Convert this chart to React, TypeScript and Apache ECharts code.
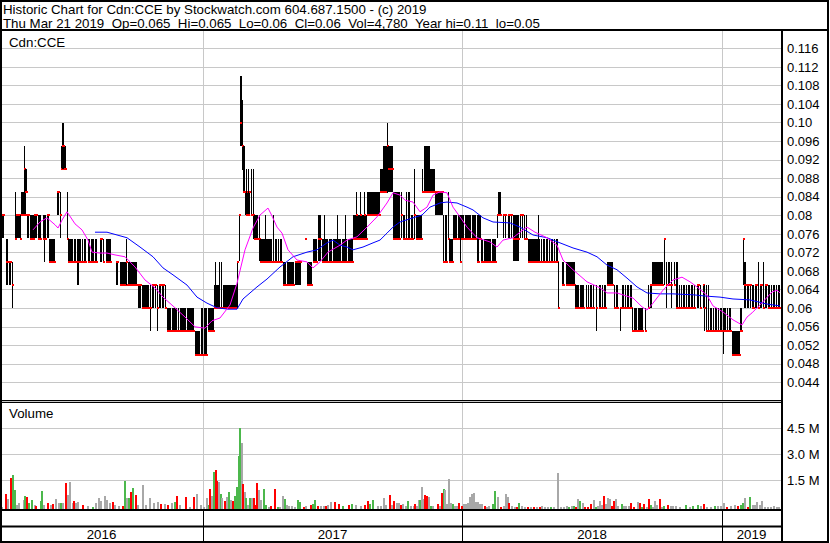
import React, { useEffect, useRef } from "react";
import * as echarts from "echarts";

const TITLE = "Historic Chart for Cdn:CCE by Stockwatch.com 604.687.1500 - (c) 2019";
const SUBTITLE = "Thu Mar 21 2019  Op=0.065  Hi=0.065  Lo=0.06  Cl=0.06  Vol=4,780  Year hi=0.11  lo=0.05";
const SYMBOL = "Cdn:CCE";
const VOLUME_LABEL = "Volume";

const years = ["2016", "2017", "2018", "2019"];
// trading-day index where each year begins, and the last index of the chart
const yearStart = [0, 203, 462, 722];
const lastDay = 781;

// price runs: [firstDay, lastDay, high, low, close] in thousandths of a dollar
const priceRuns: number[][] = [
  [1,3,80,75,80],[6,7,75,65,70],[9,10,70,65,70],[12,12,70,60,65],[15,15,85,75,75],[16,19,80,75,80],
  [20,20,80,75,75],[21,25,85,80,80],[24,24,95,85,90],[25,26,90,85,85],[27,28,80,75,80],[30,33,80,75,75],
  [34,36,80,75,80],[38,40,80,75,75],[43,45,80,75,75],[44,44,75,70,75],[47,48,80,75,80],[49,54,75,70,70],
  [57,58,85,80,85],[60,60,85,75,80],[61,65,95,90,90],[62,63,100,90,95],[67,67,85,75,75],[68,72,75,70,70],
  [74,75,75,70,70],[77,78,75,65,70],[79,80,75,70,70],[82,82,75,70,70],[84,85,75,70,70],[88,89,75,70,70],
  [91,93,75,70,70],[95,96,75,70,70],[100,101,75,70,75],[103,103,75,70,70],[106,110,75,70,70],[116,117,70,65,70],
  [120,126,70,65,65],[126,126,75,65,70],[128,136,70,65,65],[138,140,65,60,65],[142,148,65,60,60],[150,150,65,55,60],
  [152,153,65,60,65],[155,155,65,60,65],[157,157,65,55,60],[159,160,65,60,65],[162,163,65,60,65],[165,165,65,60,60],
  [167,170,60,55,55],[172,176,60,55,55],[178,178,60,55,55],[180,185,60,55,55],[187,193,60,55,55],[195,199,55,50,50],
  [201,202,60,50,50],[204,206,60,50,50],[208,213,60,55,55],[214,218,65,60,60],[215,215,70,60,60],[219,219,70,60,60],
  [221,221,70,60,60],[223,236,65,60,60],[237,237,70,60,70],[239,239,80,70,80],[240,241,110,95,100],[242,242,105,90,95],
  [243,244,95,85,85],[245,249,85,80,85],[246,246,90,80,80],[248,248,90,80,80],[251,251,90,80,80],[253,253,90,75,80],
  [254,257,80,75,75],[259,259,80,70,75],[260,271,75,70,70],[265,265,80,70,70],[273,273,80,70,70],[275,276,75,70,70],
  [278,278,75,70,70],[280,281,75,70,70],[283,285,70,65,65],[287,293,70,65,65],[295,300,70,65,70],[305,305,75,75,75],
  [307,311,70,65,65],[313,316,75,70,70],[318,320,80,70,75],[322,327,75,70,70],[324,324,80,70,70],[329,331,75,70,70],
  [333,340,75,70,70],[337,337,80,70,70],[342,346,75,70,70],[345,345,80,70,70],[348,352,75,70,70],[353,366,80,75,75],
  [356,356,85,75,80],[360,360,85,75,80],[364,364,85,75,80],[367,379,85,80,80],[380,382,90,85,85],[383,386,95,85,85],
  [387,387,100,85,95],[388,392,95,85,90],[393,399,85,75,75],[401,401,85,75,80],[403,404,80,75,75],[406,406,85,75,75],
  [408,409,85,75,75],[411,412,80,75,75],[414,414,90,75,80],[416,421,80,75,75],[422,422,90,85,85],[424,429,95,85,85],
  [430,434,90,85,85],[435,442,85,80,85],[443,443,80,70,70],[445,446,80,70,70],[448,448,85,75,75],[449,452,75,70,70],
  [453,456,80,75,75],[458,463,80,75,75],[460,460,80,70,70],[465,470,80,75,75],[472,475,80,75,75],[477,478,80,70,70],
  [479,480,80,75,75],[481,482,75,70,70],[484,490,75,70,70],[492,495,75,70,70],[497,497,80,75,80],[498,500,85,80,80],
  [503,503,80,75,80],[505,505,80,75,80],[508,509,80,75,80],[511,511,80,75,80],[513,518,80,70,75],[520,520,80,75,80],
  [522,522,80,75,80],[524,524,80,75,75],[526,526,80,75,75],[528,539,75,70,70],[538,538,80,70,70],[541,541,75,70,70],
  [543,544,75,70,70],[546,547,75,70,70],[549,549,75,70,70],[551,552,75,70,70],[554,554,75,70,70],[556,557,75,70,70],
  [558,558,70,60,60],[562,563,70,65,65],[566,574,70,65,65],[575,578,65,60,60],[580,583,65,60,60],[586,586,65,60,60],
  [588,588,65,60,60],[590,591,65,60,60],[593,593,65,60,60],[596,596,65,55,60],[599,600,65,60,60],[602,602,65,60,60],
  [604,605,65,60,60],[607,612,70,65,65],[614,614,65,60,60],[616,617,65,60,60],[620,620,60,55,60],[622,623,65,60,60],
  [625,625,65,60,60],[627,628,65,60,60],[630,631,65,60,60],[632,632,60,55,55],[634,636,60,55,55],[638,642,60,55,55],
  [645,645,60,55,55],[648,648,65,60,60],[650,651,65,60,65],[652,662,70,65,65],[664,664,75,65,75],[666,666,70,60,65],
  [668,669,70,65,65],[671,671,70,60,65],[674,674,70,65,65],[676,677,70,60,60],[679,679,65,60,60],[681,681,65,60,60],
  [683,684,65,60,60],[686,686,65,60,60],[688,689,65,60,60],[691,692,65,60,60],[694,694,65,60,60],[697,698,65,60,65],
  [700,700,65,60,60],[703,703,65,60,65],[704,704,65,55,60],[706,706,65,55,55],[708,708,65,55,55],[710,711,60,55,55],
  [713,713,60,55,55],[715,716,60,55,55],[718,718,60,55,55],[720,721,60,55,55],[723,723,60,50,55],[724,725,60,55,55],
  [727,727,60,55,55],[729,730,60,55,55],[732,739,55,50,50],[740,741,60,55,55],[743,743,75,65,75],[744,745,70,60,65],
  [747,748,65,60,65],[750,750,65,60,65],[752,753,65,60,60],[755,756,65,60,65],[758,758,70,60,60],[760,761,65,60,65],
  [763,763,70,60,60],[765,766,65,60,65],[768,769,65,60,60],[771,771,65,60,60],[773,774,65,60,60],[776,776,65,60,60],
  [778,779,65,60,60],
];

// short moving average (magenta): [day, price]
const maShort: number[][] = [
  [33,0.0769],[40,0.0786],[47,0.0795],[55,0.0780],[58,0.0773],[62,0.0790],[67,0.0808],[75,0.0782],[82,0.0769],
  [88,0.0747],[92,0.0721],[100,0.0719],[107,0.0719],[115,0.0715],[125,0.0711],[135,0.0689],[145,0.0661],[155,0.0644],
  [163,0.0624],[175,0.0601],[185,0.0581],[195,0.0560],[205,0.0557],[212,0.0573],[220,0.0579],[230,0.0607],[237,0.0654],
  [245,0.0726],[253,0.0773],[260,0.0801],[268,0.0816],[272,0.0799],[277,0.0775],[282,0.0762],[288,0.0726],[297,0.0704],
  [307,0.0700],[313,0.0687],[320,0.0700],[328,0.0721],[340,0.0736],[347,0.0747],[357,0.0754],[367,0.0775],[377,0.0797],
  [387,0.0827],[393,0.0849],[400,0.0844],[405,0.0833],[413,0.0829],[420,0.0808],[427,0.0818],[433,0.0844],[440,0.0851],
  [447,0.0849],[453,0.0818],[460,0.0797],[467,0.0775],[477,0.0752],[490,0.0743],[497,0.0732],[503,0.0747],[513,0.0752],
  [520,0.0764],[527,0.0775],[535,0.0764],[547,0.0752],[557,0.0736],[563,0.0704],[573,0.0683],[587,0.0657],[600,0.0644],
  [607,0.0633],[617,0.0633],[627,0.0626],[633,0.0622],[642,0.0603],[647,0.0596],[653,0.0611],[663,0.0639],[673,0.0661],
  [682,0.0667],[690,0.0657],[697,0.0646],[707,0.0628],[713,0.0605],[723,0.0592],[733,0.0575],[742,0.0564],[747,0.0581],
  [752,0.0590],[758,0.0603],[763,0.0614],[772,0.0635],[777,0.0639],[780,0.0633],
];

// long moving average (blue): [day, price]
const maLong: number[][] = [
  [95,0.0764],[107,0.0764],[117,0.0758],[127,0.0752],[140,0.0732],[153,0.0711],[163,0.0687],[173,0.0672],[187,0.0650],
  [197,0.0624],[207,0.0611],[217,0.0601],[228,0.0598],[237,0.0598],[243,0.0620],[257,0.0646],[267,0.0663],[280,0.0689],
  [293,0.0711],[307,0.0721],[317,0.0726],[327,0.0741],[333,0.0747],[340,0.0736],[347,0.0732],[353,0.0726],[363,0.0732],
  [373,0.0741],[380,0.0747],[387,0.0762],[393,0.0775],[400,0.0786],[413,0.0795],[422,0.0801],[430,0.0818],[440,0.0827],
  [447,0.0829],[457,0.0827],[467,0.0818],[473,0.0812],[483,0.0795],[493,0.0786],[510,0.0784],[520,0.0775],[533,0.0758],
  [547,0.0752],[560,0.0741],[573,0.0730],[587,0.0721],[597,0.0711],[607,0.0693],[617,0.0683],[627,0.0665],[637,0.0646],
  [647,0.0633],[660,0.0631],[673,0.0631],[693,0.0629],[707,0.0626],[720,0.0624],[733,0.0620],[750,0.0618],[767,0.0609],
  [780,0.0605],
];

// volume: [day, thousands of shares, r = down / g = up / n = unchanged]
const volumes: (number | string)[][] = [
  [1,115,"n"],[5,865,"r"],[7,575,"n"],[10,1790,"r"],[12,1960,"g"],[14,1100,"g"],[16,230,"n"],[18,345,"n"],[23,520,"n"],
  [24,750,"g"],[26,690,"r"],[28,345,"g"],[31,520,"g"],[34,230,"n"],[35,175,"r"],[40,460,"g"],[41,1040,"g"],[43,230,"n"],
  [47,345,"r"],[50,230,"n"],[52,290,"r"],[55,575,"n"],[58,345,"n"],[60,345,"g"],[62,345,"n"],[65,1500,"r"],[67,810,"n"],
  [69,1560,"n"],[72,345,"n"],[73,460,"r"],[75,345,"n"],[77,405,"n"],[82,230,"r"],[87,175,"n"],[92,115,"g"],[95,345,"n"],
  [98,635,"n"],[100,460,"n"],[104,750,"n"],[106,520,"n"],[109,345,"n"],[112,405,"r"],[114,230,"n"],[118,175,"n"],
  [122,175,"r"],[124,1615,"g"],[126,635,"n"],[128,635,"g"],[130,980,"r"],[132,1210,"g"],[135,810,"r"],[137,230,"n"],
  [142,1385,"n"],[145,230,"n"],[149,635,"n"],[153,345,"n"],[157,405,"n"],[160,290,"r"],[164,290,"n"],[167,230,"r"],
  [171,345,"n"],[174,405,"g"],[176,750,"r"],[179,230,"n"],[185,690,"r"],[189,115,"n"],[193,690,"r"],[196,865,"n"],
  [200,230,"n"],[203,115,"n"],[206,635,"n"],[208,230,"g"],[209,1150,"r"],[211,750,"n"],[213,2130,"g"],[215,2250,"r"],
  [216,1615,"r"],[218,1560,"n"],[220,865,"g"],[221,635,"n"],[224,460,"r"],[226,690,"n"],[228,980,"g"],[230,520,"n"],
  [232,460,"r"],[234,750,"g"],[236,1270,"g"],[238,3060,"g"],[239,4670,"g"],[241,3810,"n"],[242,1440,"r"],[244,980,"n"],
  [245,635,"g"],[247,230,"n"],[249,635,"g"],[251,635,"n"],[253,635,"r"],[254,230,"r"],[256,1500,"r"],[258,1100,"n"],
  [260,520,"n"],[263,1150,"g"],[265,230,"g"],[268,115,"n"],[270,175,"r"],[274,1150,"r"],[277,115,"g"],[279,115,"n"],
  [282,750,"n"],[284,575,"g"],[286,230,"n"],[288,175,"n"],[291,175,"n"],[294,115,"n"],[297,520,"g"],[299,405,"g"],
  [303,115,"r"],[305,175,"n"],[310,230,"r"],[312,290,"g"],[314,520,"g"],[317,175,"r"],[320,175,"n"],[323,175,"n"],
  [325,175,"r"],[327,230,"n"],[330,405,"n"],[334,405,"r"],[338,290,"r"],[342,175,"g"],[348,230,"r"],[351,290,"g"],
  [355,230,"n"],[360,175,"n"],[364,230,"r"],[367,460,"r"],[369,290,"g"],[372,520,"g"],[377,175,"n"],[380,175,"n"],
  [383,635,"n"],[385,230,"n"],[389,810,"r"],[391,230,"n"],[393,460,"r"],[396,345,"n"],[398,345,"n"],[400,230,"r"],
  [402,290,"n"],[405,175,"n"],[407,460,"g"],[410,175,"n"],[413,175,"n"],[414,290,"r"],[416,175,"n"],[418,520,"n"],
  [419,520,"g"],[421,1270,"n"],[423,575,"n"],[424,810,"r"],[426,750,"r"],[428,690,"n"],[430,175,"g"],[432,175,"n"],
  [437,290,"r"],[439,175,"n"],[441,925,"r"],[443,1150,"g"],[444,1100,"n"],[446,290,"n"],[448,1730,"n"],[450,345,"n"],
  [452,290,"g"],[454,175,"n"],[456,175,"n"],[458,345,"r"],[461,175,"r"],[463,290,"n"],[465,290,"n"],[467,345,"n"],
  [469,690,"n"],[471,865,"n"],[473,925,"n"],[475,405,"n"],[477,405,"n"],[479,290,"n"],[481,290,"n"],[484,175,"r"],
  [486,115,"n"],[488,175,"n"],[492,290,"g"],[494,1040,"g"],[497,690,"n"],[500,115,"r"],[503,175,"n"],[505,865,"n"],
  [507,690,"n"],[508,345,"r"],[511,175,"n"],[514,115,"n"],[516,115,"r"],[518,345,"g"],[521,175,"n"],[524,115,"n"],
  [527,115,"r"],[530,115,"n"],[533,115,"r"],[536,115,"n"],[539,115,"r"],[541,175,"n"],[544,115,"n"],[547,115,"n"],
  [550,115,"g"],[553,115,"n"],[557,2080,"n"],[560,115,"n"],[563,115,"n"],[566,175,"n"],[568,115,"g"],[571,175,"n"],
  [573,175,"g"],[575,115,"r"],[577,575,"n"],[579,460,"g"],[582,345,"n"],[584,115,"r"],[587,115,"r"],[590,290,"r"],
  [593,520,"n"],[595,115,"g"],[597,175,"n"],[599,460,"n"],[601,230,"n"],[603,750,"r"],[605,290,"n"],[607,635,"n"],
  [609,575,"n"],[611,175,"r"],[613,460,"r"],[615,575,"n"],[617,175,"n"],[621,290,"g"],[623,175,"n"],[625,175,"n"],
  [628,175,"n"],[630,345,"r"],[633,115,"r"],[637,405,"n"],[639,345,"r"],[641,115,"g"],[643,290,"r"],[646,115,"n"],
  [648,575,"r"],[650,230,"g"],[652,115,"n"],[654,460,"n"],[656,230,"n"],[659,575,"r"],[661,115,"n"],[663,175,"g"],
  [667,230,"r"],[670,175,"n"],[672,175,"n"],[675,175,"n"],[679,115,"n"],[685,230,"g"],[689,115,"n"],[692,175,"g"],
  [697,230,"g"],[700,175,"n"],[703,290,"r"],[706,115,"n"],[710,115,"n"],[714,175,"g"],[717,175,"n"],[720,175,"n"],
  [723,345,"n"],[726,115,"r"],[730,175,"n"],[734,230,"n"],[737,175,"r"],[740,230,"g"],[742,345,"g"],[744,635,"n"],
  [747,115,"r"],[749,690,"g"],[752,230,"n"],[754,230,"n"],[756,405,"n"],[759,230,"n"],[761,460,"n"],[764,115,"n"],
  [767,115,"n"],[770,115,"n"],[773,175,"n"],[776,115,"n"],[778,115,"n"],
];

const FONT = "'Liberation Sans', Arial, sans-serif";
const GRID_GRAY = "#c8c8c8";
const VOL_COLORS: Record<string, string> = { r: "#ff0000", g: "#4cb84c", n: "#a8a8a8" };
const DIR_CODE: Record<string, number> = { r: -1, n: 0, g: 1 };
const CODE_COLOR: Record<number, string> = { [-1]: VOL_COLORS.r, 0: VOL_COLORS.n, 1: VOL_COLORS.g };

export default function App() {
  const ref = useRef<HTMLDivElement>(null);

  useEffect(() => {
    document.body.style.margin = "0";
    const styleEl = document.createElement("style");
    styleEl.textContent = "svg text, svg tspan { white-space: pre !important; }";
    document.head.appendChild(styleEl);
    if (!ref.current) return;
    const chart = echarts.init(ref.current, undefined, { renderer: "svg" });

    const priceData = priceRuns.map((r) => [r[0], r[1], r[2] / 1000, r[3] / 1000, r[4] / 1000]);
    const volData = volumes.map((v) => [v[0] as number, (v[1] as number) * 1000, DIR_CODE[v[2] as string]]);
    const yearData = years.map((_, i) => [yearStart[i], i + 1 < yearStart.length ? yearStart[i + 1] : lastDay, i]);
    const sepData = yearStart.slice(1).map((d) => [d]);

    const xAxisBase = { type: "value" as const, min: 0, max: lastDay, show: false };

    const option: any = {
      animation: false,
      backgroundColor: "#fff",
      grid: [
        { left: 0, top: 30, width: lastDay, height: 371 },
        { left: 0, top: 402, width: lastDay, height: 104 },
        { left: 0, top: 511, width: lastDay, height: 30 },
      ],
      xAxis: [
        { ...xAxisBase, gridIndex: 0 },
        { ...xAxisBase, gridIndex: 1 },
        { ...xAxisBase, gridIndex: 2 },
      ],
      yAxis: [
        {
          gridIndex: 0,
          type: "value",
          position: "right",
          min: 0.04,
          max: 0.12,
          interval: 0.004,
          axisLine: { show: false },
          axisTick: { show: false },
          axisLabel: {
            margin: 6,
            color: "#000",
            fontSize: 13,
            fontFamily: FONT,
            showMinLabel: false,
            showMaxLabel: false,
            formatter: (v: number) => {
              const s = v.toFixed(3);
              return s.endsWith("0") ? s.slice(0, -1) : s;
            },
          },
          splitLine: { show: true, lineStyle: { color: GRID_GRAY, width: 1 } },
        },
        {
          gridIndex: 1,
          type: "value",
          position: "right",
          min: 0,
          max: 6000000,
          interval: 1500000,
          axisLine: { show: false },
          axisTick: { show: false },
          axisLabel: {
            margin: 6,
            color: "#000",
            fontSize: 13,
            fontFamily: FONT,
            showMinLabel: false,
            showMaxLabel: false,
            formatter: (v: number) => (v / 1e6).toFixed(1) + " M",
          },
          splitLine: { show: true, showMinLine: false, lineStyle: { color: GRID_GRAY, width: 1 } },
        },
        { gridIndex: 2, type: "value", min: 0, max: 1, show: false },
      ],
      series: [
        // year separators in the price panel
        {
          type: "custom",
          xAxisIndex: 0,
          yAxisIndex: 0,
          z: 1,
          silent: true,
          data: sepData,
          encode: { x: 0 },
          renderItem: (_p: any, api: any) => {
            const a = api.coord([api.value(0), 0.12]);
            const b = api.coord([api.value(0), 0.04]);
            const x = Math.round(a[0]) + 0.5;
            return { type: "line", shape: { x1: x, y1: a[1], x2: x, y2: b[1] }, style: { stroke: GRID_GRAY, lineWidth: 1 } };
          },
        },
        // year separators in the volume panel
        {
          type: "custom",
          xAxisIndex: 1,
          yAxisIndex: 1,
          z: 1,
          silent: true,
          data: sepData,
          encode: { x: 0 },
          renderItem: (_p: any, api: any) => {
            const a = api.coord([api.value(0), 6000000]);
            const b = api.coord([api.value(0), 0]);
            const x = Math.round(a[0]) + 0.5;
            return { type: "line", shape: { x1: x, y1: a[1], x2: x, y2: b[1] + 3 }, style: { stroke: GRID_GRAY, lineWidth: 1 } };
          },
        },
        // price high-low bars with close ticks
        {
          type: "custom",
          xAxisIndex: 0,
          yAxisIndex: 0,
          z: 2,
          silent: true,
          data: priceData,
          encode: { x: [0, 1], y: [2, 3] },
          renderItem: (_p: any, api: any) => {
            const x0 = api.value(0);
            const x1 = api.value(1);
            const hi = api.value(2);
            const lo = api.value(3);
            const cl = api.value(4);
            const a = api.coord([x0, hi]);
            const b = api.coord([x1 + 1, lo]);
            const c = api.coord([x0, cl]);
            const w = Math.max(1, Math.round(b[0] - a[0]));
            const children: any[] = [];
            if (hi > lo) {
              children.push({
                type: "rect",
                shape: { x: Math.round(a[0]), y: Math.round(a[1]), width: w, height: Math.round(b[1] - a[1]) },
                style: { fill: "#000" },
              });
            }
            children.push({
              type: "rect",
              shape: { x: Math.round(a[0]), y: Math.round(c[1]) - 1, width: w + 1, height: 2 },
              style: { fill: "#ff0000" },
            });
            return { type: "group", children };
          },
        },
        {
          type: "line",
          xAxisIndex: 0,
          yAxisIndex: 0,
          z: 3,
          silent: true,
          data: maLong,
          showSymbol: false,
          lineStyle: { color: "#0000ff", width: 1 },
        },
        {
          type: "line",
          xAxisIndex: 0,
          yAxisIndex: 0,
          z: 4,
          silent: true,
          data: maShort,
          showSymbol: false,
          lineStyle: { color: "#ff00ff", width: 1 },
        },
        // volume bars
        {
          type: "custom",
          xAxisIndex: 1,
          yAxisIndex: 1,
          z: 2,
          silent: true,
          data: volData,
          encode: { x: 0, y: 1 },
          renderItem: (_p: any, api: any) => {
            const top = api.coord([api.value(0), api.value(1)]);
            const base = api.coord([api.value(0), 0]);
            return {
              type: "rect",
              shape: { x: Math.round(top[0]), y: top[1] + 3, width: 2, height: base[1] - top[1] },
              style: { fill: CODE_COLOR[api.value(2)] },
            };
          },
        },
        // year panel: separators and labels
        {
          type: "custom",
          xAxisIndex: 2,
          yAxisIndex: 2,
          z: 5,
          silent: true,
          data: yearData,
          encode: { x: [0, 1] },
          renderItem: (_p: any, api: any) => {
            const s = api.value(0);
            const e = api.value(1);
            const idx = api.value(2);
            const top = api.coord([s, 1]);
            const bot = api.coord([s, 0]);
            const mid = api.coord([(s + e) / 2, 0.22]);
            const children: any[] = [];
            if (s > 0) {
              const x = Math.round(top[0]) + 0.5;
              children.push({ type: "line", shape: { x1: x, y1: top[1], x2: x, y2: bot[1] }, style: { stroke: "#000", lineWidth: 1 } });
            }
            children.push({
              type: "text",
              style: {
                text: years[idx],
                x: mid[0],
                y: mid[1],
                textAlign: "center",
                textVerticalAlign: "middle",
                fontSize: 13.3,
                fontFamily: FONT,
                fill: "#000",
              },
            });
            return { type: "group", children };
          },
        },
      ],
      graphic: [
        { type: "rect", z: 100, silent: true, shape: { x: 1, y: 1, width: 827, height: 541 }, style: { fill: "none", stroke: "#000", lineWidth: 2 } },
        { type: "line", z: 100, silent: true, shape: { x1: 0, y1: 30, x2: 829, y2: 30 }, style: { stroke: "#000", lineWidth: 2 } },
        { type: "line", z: 100, silent: true, shape: { x1: 782, y1: 30, x2: 782, y2: 543 }, style: { stroke: "#000", lineWidth: 2 } },
        { type: "line", z: 100, silent: true, shape: { x1: 0, y1: 400.5, x2: 782, y2: 400.5 }, style: { stroke: "#000", lineWidth: 1 } },
        { type: "line", z: 100, silent: true, shape: { x1: 0, y1: 402.5, x2: 782, y2: 402.5 }, style: { stroke: "#000", lineWidth: 1 } },
        { type: "line", z: 100, silent: true, shape: { x1: 0, y1: 510, x2: 782, y2: 510 }, style: { stroke: "#000", lineWidth: 2 } },
        { type: "line", z: 100, silent: true, shape: { x1: 0, y1: 526.5, x2: 782, y2: 526.5 }, style: { stroke: "#000", lineWidth: 2 } },
        { type: "text", z: 100, silent: true, x: 3, y: 9, style: { text: TITLE, fontSize: 13.3, fontFamily: FONT, fill: "#000", textVerticalAlign: "middle" } },
        { type: "text", z: 100, silent: true, x: 3, y: 23, style: { text: SUBTITLE, fontSize: 13.3, fontFamily: FONT, fill: "#000", textVerticalAlign: "middle" } },
        { type: "text", z: 100, silent: true, x: 9, y: 42, style: { text: SYMBOL, fontSize: 13.3, fontFamily: FONT, fill: "#000", textVerticalAlign: "middle" } },
        { type: "text", z: 100, silent: true, x: 9, y: 413, style: { text: VOLUME_LABEL, fontSize: 13.3, fontFamily: FONT, fill: "#000", textVerticalAlign: "middle" } },
      ],
    };

    chart.setOption(option);
    const svg = ref.current.querySelector("svg");
    if (svg) {
      svg.setAttributeNS("http://www.w3.org/XML/1998/namespace", "xml:space", "preserve");
      svg.querySelectorAll("text").forEach((t) =>
        t.setAttributeNS("http://www.w3.org/XML/1998/namespace", "xml:space", "preserve")
      );
    }
    return () => {
      chart.dispose();
      styleEl.remove();
    };
  }, []);

  return <div ref={ref} style={{ width: 830, height: 543 }} />;
}
